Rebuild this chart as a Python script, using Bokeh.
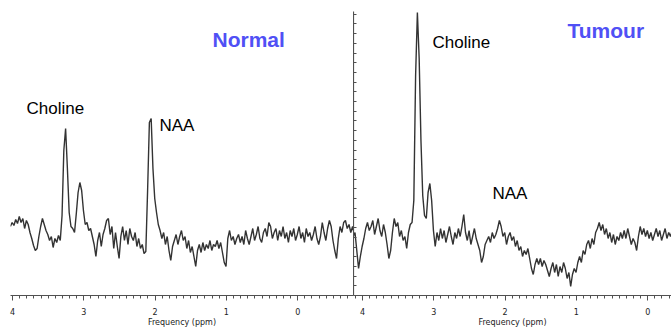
import numpy as np
from bokeh.plotting import figure
from bokeh.layouts import row
from bokeh.models import Range1d, SingleIntervalTicker, Label, CustomJSTickFormatter
from bokeh.embed import file_html
from bokeh.resources import INLINE

# ---------------- data ----------------
# frequency grids (ppm), uniform sampling of the spectra
normal_ppm_start, normal_ppm_step, normal_n = 4.03, -0.025, 194
tumour_ppm_start, tumour_ppm_step, tumour_n = 4.13, -0.025, 180

# signal intensity (arbitrary units)
normal_signal = [
    69, 73, 70, 76, 72, 79, 73, 77, 67, 75,
    71, 63, 57, 50, 45, 47, 59, 69, 77, 71,
    65, 61, 55, 59, 48, 57, 53, 60, 55, 80,
    145, 167, 127, 83, 69, 67, 63, 82, 103, 113,
    105, 85, 71, 73, 65, 67, 59, 51, 39, 55,
    63, 49, 61, 67, 75, 77, 61, 69, 47, 63,
    49, 37, 59, 69, 55, 65, 51, 67, 59, 55,
    63, 49, 57, 47, 51, 42, 44, 105, 173, 177,
    127, 97, 83, 71, 65, 57, 63, 51, 59, 45,
    35, 49, 55, 61, 51, 59, 65, 55, 59, 47,
    55, 43, 49, 39, 29, 45, 51, 43, 53, 45,
    51, 47, 55, 45, 51, 49, 55, 47, 53, 43,
    33, 29, 57, 65, 55, 59, 51, 57, 61, 53,
    59, 51, 65, 57, 51, 59, 67, 55, 61, 69,
    57, 53, 63, 67, 59, 73, 69, 57, 63, 67,
    55, 65, 59, 69, 57, 63, 53, 65, 59, 67,
    55, 61, 69, 57, 63, 53, 67, 59, 63, 55,
    61, 69, 57, 51, 59, 73, 63, 55, 67, 75,
    69, 55, 45, 37, 57, 69, 63, 73, 75, 67,
    71, 63, 69, 61,
]

tumour_signal = [
    59, 63, 45, 27, 39, 49, 57, 67, 73, 65,
    69, 75, 61, 69, 77, 65, 59, 71, 63, 51,
    37, 45, 63, 77, 69, 73, 59, 65, 55, 59,
    47, 63, 71, 73, 95, 220, 283, 237, 155, 100,
    80, 77, 103, 112, 95, 65, 49, 63, 55, 67,
    57, 65, 53, 61, 69, 59, 51, 63, 57, 67,
    59, 69, 81, 63, 55, 65, 51, 59, 67, 57,
    51, 45, 33, 39, 51, 55, 59, 53, 63, 57,
    61, 67, 75, 69, 59, 63, 51, 59, 63, 55,
    59, 49, 55, 45, 49, 39, 45, 41, 47, 37,
    27, 21, 31, 37, 31, 37, 29, 35, 31, 25,
    19, 27, 33, 23, 31, 19, 29, 23, 33, 27,
    17, 23, 9, 21, 27, 23, 33, 39, 33, 45,
    41, 51, 55, 47, 57, 51, 63, 67, 73, 65,
    71, 61, 67, 57, 63, 53, 61, 51, 59, 55,
    63, 57, 65, 57, 67, 59, 51, 57, 53, 45,
    59, 69, 61, 67, 59, 65, 57, 63, 55, 61,
    67, 59, 65, 55, 61, 67, 57, 63, 59, 65,
]

tick_labels = ["4", "3", "2", "1", "0"]
axis_title = "Frequency (ppm)"
panel_titles = ["Normal", "Tumour"]

normal_ppm = normal_ppm_start + normal_ppm_step * np.arange(normal_n)
tumour_ppm = tumour_ppm_start + tumour_ppm_step * np.arange(tumour_n)

# ---------------- styling helpers ----------------
AXIS_FONT = "DejaVu Sans"
LABEL_FONT = "Liberation Sans"
BLUE = "#5050f5"
LINE = "#333333"
AXIS_COL = "#505050"
H = 329


def style_xaxis(p):
    ax = p.xaxis[0]
    ax.ticker = SingleIntervalTicker(interval=1, num_minor_ticks=10)
    ax.major_label_overrides = {4: tick_labels[0], 3: tick_labels[1], 2: tick_labels[2],
                                1: tick_labels[3], 0: tick_labels[4]}
    ax.axis_label = axis_title
    ax.axis_label_text_font = AXIS_FONT
    ax.axis_label_text_font_size = "8px"
    ax.axis_label_text_font_style = "normal"
    ax.axis_label_text_color = "#222222"
    ax.axis_label_standoff = 0
    ax.major_label_text_font = AXIS_FONT
    ax.major_label_text_font_size = "8px"
    ax.major_label_text_color = "#222222"
    ax.major_label_standoff = 7
    ax.axis_line_color = AXIS_COL
    ax.axis_line_width = 1.2
    ax.major_tick_line_color = AXIS_COL
    ax.minor_tick_line_color = AXIS_COL
    ax.major_tick_out = 5
    ax.major_tick_in = 0
    ax.minor_tick_out = 3
    ax.minor_tick_in = 0


def base_fig(width, xr, ylab_side):
    p = figure(width=width, height=H, output_backend="svg", toolbar_location=None,
               x_range=xr, y_range=Range1d(0, 284), y_axis_location=ylab_side,
               min_border=0, min_border_top=11, min_border_bottom=34,
               background_fill_color="white", border_fill_color="white")
    p.outline_line_color = None
    p.grid.visible = False
    return p


# ---------------- left panel (Normal) ----------------
left = base_fig(353, Range1d(4.028, -0.783), None)
left.min_border_left = 10
left.line(normal_ppm, normal_signal, line_color=LINE, line_width=1.4)
style_xaxis(left)

# ---------------- right panel (Tumour) ----------------
right = base_fig(318, Range1d(4.126, -0.334), "left")
right.line(tumour_ppm, tumour_signal, line_color=LINE, line_width=1.4)
style_xaxis(right)
ya = right.yaxis[0]
ya.ticker = SingleIntervalTicker(interval=9.7, num_minor_ticks=0)
ya.formatter = CustomJSTickFormatter(code="return '';")
ya.major_label_standoff = 0
ya.major_tick_in = 3
ya.major_tick_out = 0
ya.minor_tick_line_color = None
ya.axis_line_color = AXIS_COL
ya.axis_line_width = 1.2
ya.major_tick_line_color = AXIS_COL

# ---------------- annotations ----------------
def add_label(p, x, y, text, size, color="black", style="normal", font=LABEL_FONT):
    p.add_layout(Label(x=x, y=y, text=text, text_font=font, text_font_size=size,
                       text_color=color, text_font_style=style,
                       text_align="left", text_baseline="alphabetic"))

add_label(left, 3.804, 187, "Choline", "17px")
add_label(left, 1.938, 170, "NAA", "17px")
add_label(left, 1.195, 256, panel_titles[0], "21px", BLUE, "bold")

add_label(right, 3.018, 253, "Choline", "17px")
add_label(right, 2.177, 102, "NAA", "17px")
add_label(right, 1.125, 265, panel_titles[1], "21px", BLUE, "bold")

layout = row(left, right, spacing=0)
open("out.html", "w").write(file_html(layout, INLINE))
